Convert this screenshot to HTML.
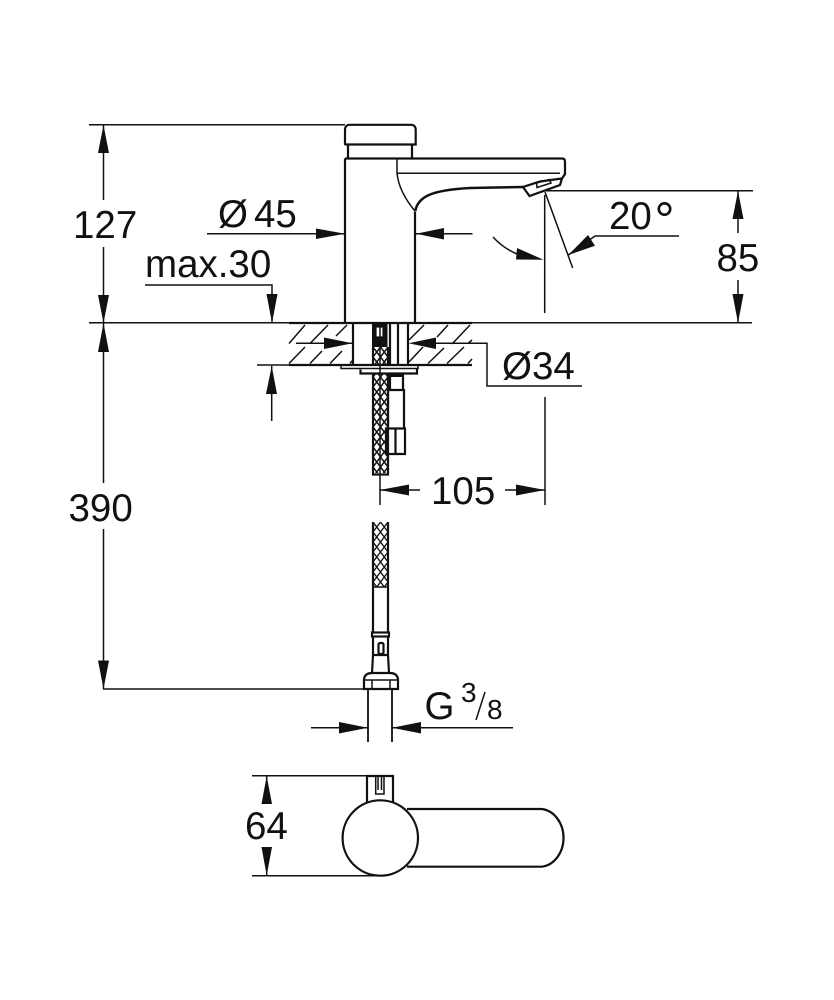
<!DOCTYPE html>
<html><head><meta charset="utf-8"><style>
html,body{margin:0;padding:0;background:#fff}
svg{display:block}
text{font-family:"Liberation Sans",sans-serif;fill:#111;font-size:38.5px}
.t{stroke:#111;stroke-width:2.2;fill:none}
.m{stroke:#111;stroke-width:1.5;fill:none}
.h{stroke:#111;stroke-width:1.5;fill:none}
.a{fill:#111;stroke:none}
</style></head><body>
<svg width="834" height="1000" viewBox="0 0 834 1000" xmlns="http://www.w3.org/2000/svg">
<defs>
<pattern id="br" x="373" y="347" width="7.500" height="10" patternUnits="userSpaceOnUse">
<path d="M0 0L7.500 10M7.500 0L0 10" stroke="#111" stroke-width="1.500" fill="none"/>
</pattern>
<pattern id="br2" x="373" y="522" width="7.500" height="10" patternUnits="userSpaceOnUse">
<path d="M0 0L7.500 10M7.500 0L0 10" stroke="#111" stroke-width="1.300" fill="none"/>
</pattern>
</defs>
<!-- extension lines -->
<path class="m" d="M89 124.700H345M89 322.800H752M545 190.700H753M103 689H363M252 775.700H393M252 875.700H380M257 365H289"/>
<!-- 127 -->
<path class="m" d="M103.500 125V200M103.500 247V323"/>
<path class="a" d="M103.500 125L109 153H98ZM103.500 323L109 295H98Z"/>
<text x="73" y="238">127</text>
<!-- 390 -->
<path class="m" d="M103.500 323V483M103.500 529V689"/>
<path class="a" d="M103.500 323L109 352H98ZM103.500 689L109 660.500H98Z"/>
<text x="68.500" y="521">390</text>
<!-- 45 -->
<path class="m" d="M207 233.700H345M472.500 233.700H416"/>
<path class="a" d="M345 233.700L316 228.500V239ZM416 233.700L444 228V239.500Z"/>
<text x="218" y="227">Ø</text><text x="254" y="227">45</text>
<!-- max.30 -->
<text x="145" y="277" style="font-size:38.500px">max.30</text>
<path class="m" d="M145 285H272V323"/>
<path class="a" d="M272 323L266.500 294H277.500Z"/>
<!-- 85 -->
<path class="m" d="M738 191V233M738 280V323"/>
<path class="a" d="M738 191L743.500 219H732.500ZM738 323L743.500 294H732.500Z"/>
<text x="716.500" y="271">85</text>
<!-- 20 deg -->
<path class="m" d="M544.700 195V313M545 192L572.700 268M568.300 255L595 236H679"/>
<path class="a" d="M568.300 255L588 235L595 245.700Z"/>
<path class="m" d="M493 237Q503 248 517 254"/>
<path class="a" d="M543.500 259.700L517 248L516 259.500Z"/>
<text x="609" y="229">20</text><text x="654.500" y="237" style="font-size:50px">°</text>
<!-- faucet -->
<path class="t" d="M345 145V130Q345 124.800 350 124.800H411Q415.700 124.800 415.700 130V144.500H345ZM348 144.500V158.500M412 144.500V158.500"/>
<path class="t" d="M345 158.500H562Q565 158.500 565 161.500V174L561 180M345 158.500V323M415 211.500V323"/>
<path class="m" d="M397 158.500V173.300Q399 192 415 211"/>
<path class="m" d="M397 173.300H560"/>
<path class="t" d="M415.300 211C418 196 433 190 470 188L523 187" style="stroke-width:2.500"/>
<path class="t" d="M523 187L529.500 196L560 185L562 178.500L540 181.500Z"/>
<path class="m" d="M537 187.500L551 183L549.500 179.500L536.500 183Z"/>
<!-- hatch area -->
<path class="t" d="M289 323H472M289 365H472"/>
<path class="h" d="M289 343.500L305 325M310 343.500L328 325M336 336L347 325M289 363.500L305 347M310 363.500L322 351M330 363.500L342 351M350 363.500L353 360
M409 362L423 347M428 363.500L444 348M447 363.500L464 347M468 363.500L472 359M409 340L424 325M437 337L448 325M452 344L470 325M468 343.500L472 340"/>
<!-- mount -->
<path class="t" d="M353 323V365M408 323V365M390 323V365M398 323V365"/>
<rect x="372" y="324" width="15.500" height="23" class="a"/>
<rect x="376" y="327" width="7" height="10" fill="#fff" stroke="#111" stroke-width="1.200"/>
<rect x="373" y="347" width="15" height="18" fill="url(#br)"/>
<rect x="341" y="365" width="77" height="3.500" class="m"/>
<path class="t" d="M360.500 369.500V373.500H417V369"/>
<!-- hose -->
<rect x="373" y="373" width="15" height="100" fill="url(#br)"/>
<path class="t" d="M373 347V365M388 347V365M373 373V474.500H388V373"/>
<path class="t" d="M390 373V389M403 373V389M387 390H404V428M388 390V428M386 428.500H405V454H386ZM395.500 428.500V454"/>
<rect x="388" y="373" width="16" height="4" class="a"/>
<path class="m" d="M380 323V505"/>
<!-- dia 34 -->
<path class="m" d="M296 343.300H352M436 343.300H487V386H582"/>
<path class="a" d="M352.500 343.300L324 337.500V349ZM408.500 343.300L436 337.500V349Z"/>
<text x="502" y="379">Ø34</text>
<!-- thickness arrow -->
<path class="m" d="M271.700 366V421"/>
<path class="a" d="M271.700 366L277 394H266Z"/>
<!-- 105 -->
<path class="m" d="M545 397V505M380 490H420M505 490H545"/>
<path class="a" d="M380 490L409 484.500V495.500ZM545 490L516 484.500V495.500Z"/>
<text x="431" y="504">105</text>
<!-- lower hose -->
<rect x="373" y="522" width="15" height="65" fill="url(#br2)"/>
<path class="t" d="M373 522V633M388 522V633"/>
<path class="m" d="M373 587H388"/>
<rect x="372" y="632.500" width="17" height="4" class="t" fill="#111"/>
<path class="t" d="M373 637V655M388 637V655M373 655H388M373 655L372 673M388 655L389 673"/>
<rect x="378.500" y="643" width="5" height="11" rx="1.500" class="t"/>
<path class="t" d="M364 679Q365 673 372 673H390Q397 673 398 679V689H364Z"/>
<path class="t" d="M364 680H398M372 680V689M390 680V689" style="stroke-width:1.500"/>
<path class="t" d="M368 689V742M392 689V742" style="stroke-width:1.800"/>
<!-- G 3/8 -->
<path class="m" d="M311 727.700H368M392 727.700H513"/>
<path class="a" d="M368 727.700L339 722V733.500ZM392 727.700L421 722V733.500Z"/>
<text x="424.500" y="719">G</text>
<text x="461" y="702" style="font-size:28px">3</text>
<path class="m" d="M476 720L485 692"/>
<text x="487" y="719" style="font-size:28px">8</text>
<!-- top view -->
<path class="t" d="M407 809H541.700A24.300 29 0 0 1 541.700 866.700H407"/>
<path class="t" d="M367 802V776H393V802"/>
<path class="h" d="M375.700 776V794H384V776M378 776V790M381.500 776V790"/>
<circle cx="380.300" cy="838" r="37.700" class="t" fill="#fff"/>
<path class="m" d="M266.700 776V804M266.700 847V875"/>
<path class="a" d="M266.700 776L272 804H261.500ZM266.700 875.500L272 847H261.500Z"/>
<text x="245" y="839">64</text>
</svg>
</body></html>
